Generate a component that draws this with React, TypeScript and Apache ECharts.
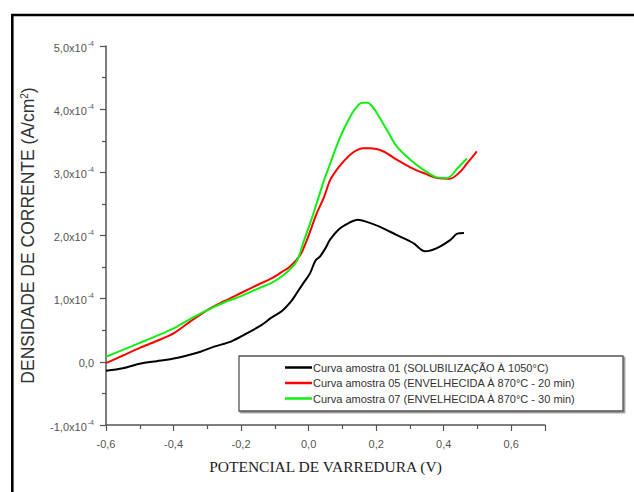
import React, { useEffect, useRef } from "react";
import * as echarts from "echarts";

// Potential (V) and current density (in units of 1e-4 A/cm²)
const blackX = [-0.6, -0.55, -0.5, -0.45, -0.41, -0.36, -0.32, -0.28, -0.23, -0.19, -0.14, -0.11, -0.08, -0.05, -0.035, -0.015, 0.004, 0.02, 0.034, 0.05, 0.063, 0.09, 0.12, 0.145, 0.17, 0.21, 0.26, 0.31, 0.345, 0.38, 0.42, 0.44, 0.46];
const blackY = [-0.14, -0.1, -0.03, 0.01, 0.04, 0.1, 0.16, 0.24, 0.32, 0.43, 0.58, 0.7, 0.8, 0.97, 1.09, 1.25, 1.4, 1.6, 1.67, 1.8, 1.93, 2.1, 2.2, 2.25, 2.22, 2.14, 2.01, 1.88, 1.75, 1.8, 1.93, 2.03, 2.04];

const redX = [-0.6, -0.55, -0.5, -0.45, -0.4, -0.35, -0.3, -0.25, -0.2, -0.15, -0.11, -0.08, -0.055, -0.025, -0.005, 0.024, 0.045, 0.064, 0.083, 0.103, 0.123, 0.143, 0.16, 0.182, 0.222, 0.261, 0.301, 0.34, 0.38, 0.419, 0.449, 0.469, 0.498];
const redY = [-0.02, 0.1, 0.22, 0.33, 0.45, 0.64, 0.82, 0.96, 1.09, 1.22, 1.32, 1.42, 1.51, 1.69, 1.93, 2.35, 2.6, 2.88, 3.04, 3.17, 3.28, 3.35, 3.38, 3.38, 3.33, 3.2, 3.08, 2.99, 2.91, 2.9, 3.01, 3.14, 3.33];

const greenX = [-0.6, -0.55, -0.5, -0.45, -0.4, -0.35, -0.3, -0.25, -0.2, -0.15, -0.11, -0.08, -0.045, -0.03, -0.015, 0.005, 0.024, 0.044, 0.064, 0.083, 0.103, 0.123, 0.143, 0.16, 0.175, 0.19, 0.202, 0.232, 0.261, 0.301, 0.34, 0.38, 0.41, 0.425, 0.44, 0.469];
const greenY = [0.08, 0.19, 0.3, 0.41, 0.53, 0.68, 0.82, 0.94, 1.04, 1.16, 1.25, 1.35, 1.52, 1.65, 1.9, 2.2, 2.51, 2.85, 3.14, 3.42, 3.67, 3.88, 4.04, 4.1, 4.1, 4.03, 3.94, 3.67, 3.41, 3.2, 3.04, 2.92, 2.91, 2.96, 3.06, 3.22];

const seriesNames = [
  "Curva amostra 01 (SOLUBILIZAÇÃO À 1050°C)",
  "Curva amostra 05 (ENVELHECIDA À 870°C - 20 min)",
  "Curva amostra 07 (ENVELHECIDA À 870°C - 30 min)",
];
const seriesColors = ["#000000", "#ff0000", "#11ee11"];

const zip = (xs: number[], ys: number[]) => xs.map((x, i) => [x, ys[i]]);

export default function App() {
  const ref = useRef<HTMLDivElement>(null);
  useEffect(() => {
    if (!ref.current) return;
    const chart = echarts.init(ref.current, null, { renderer: "svg" });
    const data = [zip(blackX, blackY), zip(redX, redY), zip(greenX, greenY)];
    const axisColor = "#555";
    chart.setOption({
      animation: false,
      backgroundColor: "#ffffff",
      grid: { left: 106, right: 89, top: 46, bottom: 67, containLabel: false },
      xAxis: {
        type: "value",
        min: -0.6,
        max: 0.7,
        interval: 0.2,
        name: "POTENCIAL DE VARREDURA (V)",
        nameLocation: "middle",
        nameGap: 33,
        nameTextStyle: { fontFamily: "Liberation Serif", fontSize: 15.5, color: "#222" },
        axisLine: { show: true, onZero: false, lineStyle: { color: axisColor, width: 1.5 } },
        axisTick: { show: true, length: 6, lineStyle: { color: axisColor, width: 1.2 } },
        minorTick: { show: true, splitNumber: 2, length: 4, lineStyle: { color: axisColor, width: 1.2 } },
        splitLine: { show: false },
        axisLabel: {
          margin: 13,
          fontFamily: "Liberation Sans",
          fontSize: 11,
          color: "#555",
          showMaxLabel: false,
          formatter: (v: number) => (Math.abs(v) < 1e-9 ? "0,0" : v.toFixed(1).replace(".", ",")),
        },
      },
      yAxis: {
        type: "value",
        min: -1,
        max: 5,
        interval: 1,
        name: "DENSIDADE DE CORRENTE (A/cm{s|2})",
        nameLocation: "middle",
        nameGap: 69,
        nameRotate: 90,
        nameTextStyle: {
          fontFamily: "Liberation Sans",
          fontSize: 17.5,
          color: "#333",
          rich: { s: { fontSize: 10, color: "#333", fontFamily: "Liberation Sans", padding: [0, 0, 8, 0] } },
        },
        axisLine: { show: true, onZero: false, lineStyle: { color: axisColor, width: 1.5 } },
        axisTick: { show: true, length: 6, lineStyle: { color: axisColor, width: 1.2 } },
        minorTick: { show: true, splitNumber: 2, length: 4, lineStyle: { color: axisColor, width: 1.2 } },
        splitLine: { show: false },
        axisLabel: {
          margin: 12,
          color: "#555",
          formatter: (v: number) => {
            if (Math.abs(v) < 1e-9) return "{a|0,0}";
            return "{a|" + v.toFixed(1).replace(".", ",") + "x10}{b|-4}";
          },
          rich: {
            a: { fontFamily: "Liberation Sans", fontSize: 11, color: "#555", padding: [3, 0, 0, 0] },
            b: { fontFamily: "Liberation Sans", fontSize: 7, color: "#555", padding: [0, 0, 6, 1] },
          },
        },
      },
      legend: {
        show: true,
        orient: "vertical",
        left: 285,
        top: 362,
        icon: "rect",
        itemWidth: 27,
        itemHeight: 2.5,
        itemGap: 4.5,
        padding: 0,
        textStyle: { fontFamily: "Liberation Sans", fontSize: 11, lineHeight: 11, color: "#333", padding: [0, 0, 0, -4] },
        data: seriesNames,
      },
      graphic: [
        {
          type: "rect",
          shape: { x: 12.3, y: 15, width: 700, height: 600 },
          style: { fill: "none", stroke: "#000", lineWidth: 2.6 },
          z: 100,
        },
        {
          type: "rect",
          shape: { x: 239, y: 356, width: 384, height: 55 },
          style: {
            fill: "#fff",
            stroke: "#555",
            lineWidth: 1.3,
            shadowColor: "rgba(0,0,0,0.45)",
            shadowOffsetX: 1.5,
            shadowOffsetY: 1.5,
            shadowBlur: 1,
          },
          z: -1,
        },
      ],
      series: data.map((d, i) => ({
        name: seriesNames[i],
        type: "line",
        data: d,
        showSymbol: false,
        symbol: "none",
        smooth: 0.3,
        lineStyle: { color: seriesColors[i], width: 2 },
        itemStyle: { color: seriesColors[i] },
        z: 2,
      })),
    });
    return () => chart.dispose();
  }, []);
  return <div ref={ref} style={{ position: "absolute", left: 0, top: 0, width: 634, height: 492 }} />;
}
